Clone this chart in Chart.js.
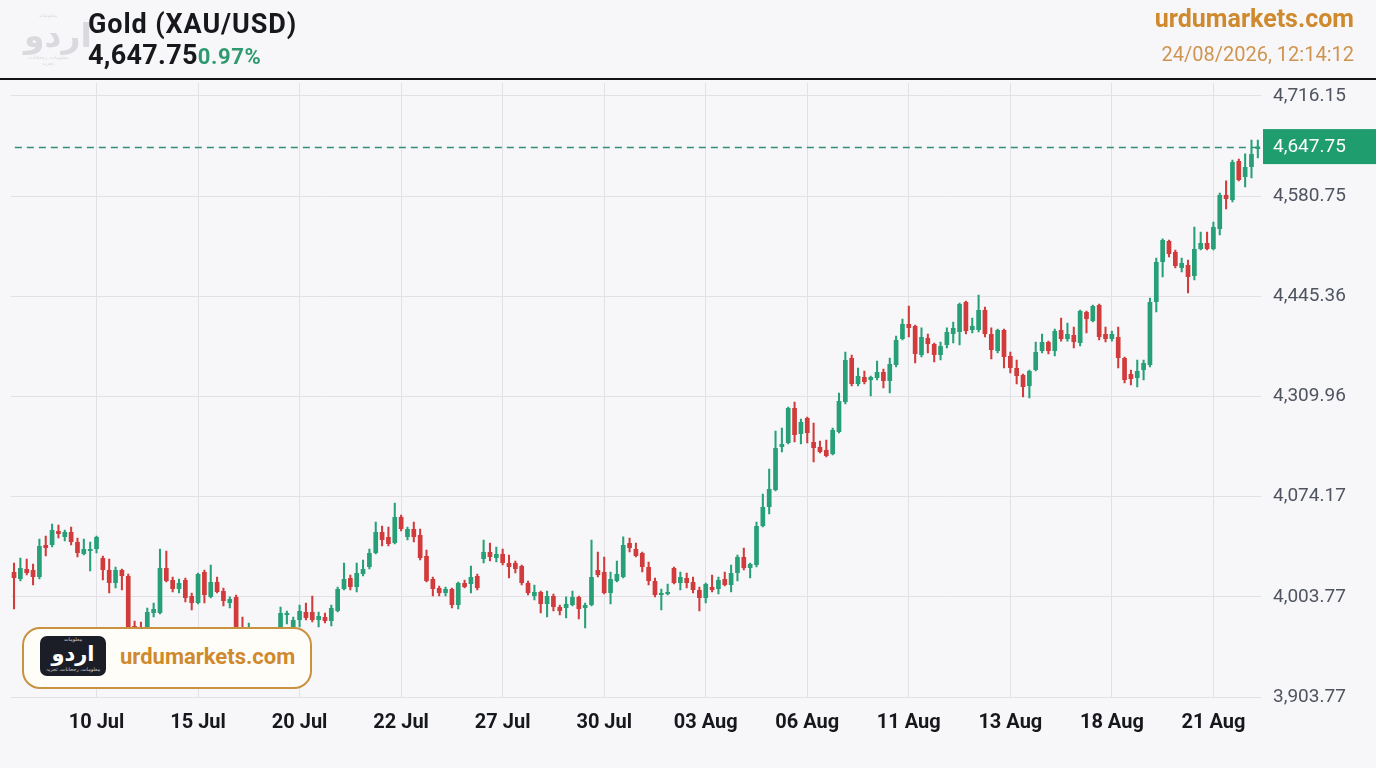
<!DOCTYPE html>
<html lang="en">
<head>
<meta charset="UTF-8">
<title>Gold (XAU/USD)</title>
<script src="https://cdn.jsdelivr.net/npm/chart.js"></script>
<style>
  body { margin: 0; width: 1376px; height: 768px; background: #f7f7f9; font-family: Roboto, sans-serif; position: relative; overflow: hidden; }
  #chart { position: absolute; left: 0; top: 0; }
  .rule { position: absolute; left: 0; top: 78px; width: 1376px; height: 2px; background: #151515; }
  .wm { position: absolute; left: 24px; top: 12px; width: 48px; text-align: center; color: #d9d9de; font-family: "DejaVu Sans", sans-serif; }
  .wm .big { font-size: 33px; font-weight: bold; line-height: 36px; }
  .wm .small { font-size: 5px; line-height: 6px; }
  .title { position: absolute; left: 88px; top: 11px; font-size: 27px; line-height: 27px; font-weight: 700; color: #17181c; letter-spacing: 0.9px; }
  .price { position: absolute; left: 88px; top: 41px; line-height: 28px; white-space: nowrap; }
  .price .v { font-size: 27px; font-weight: 700; color: #17181c; letter-spacing: 0.3px; }
  .price .p { font-size: 22px; font-weight: 700; color: #2f9a70; letter-spacing: 0.6px; }
  .site { position: absolute; right: 22px; top: 6px; font-size: 25px; line-height: 25px; font-weight: 700; color: #cf8a2e; }
  .stamp { position: absolute; right: 22px; top: 44px; font-size: 20px; line-height: 21px; color: #cf9550; }
  .badge { position: absolute; left: 22px; top: 627px; width: 290px; height: 62px; box-sizing: border-box; border: 2.5px solid #c99240; border-radius: 18px; background: #fffdf8; }
  .badge .logo { position: absolute; left: 16px; top: 7px; width: 66px; height: 40px; border-radius: 7px; background: #1b1e27; color: #fff; text-align: center; font-family: "DejaVu Sans", sans-serif; }
  .badge .logo .t { font-size: 5px; line-height: 7px; color: #cfd0d6; }
  .badge .logo .b { font-size: 21px; font-weight: bold; line-height: 24px; margin-top: -1px; }
  .badge .name { position: absolute; left: 96px; top: 17px; font-size: 22px; line-height: 22px; font-weight: 700; color: #cf8a2e; }
</style>
</head>
<body>
<canvas id="chart" width="1376" height="768"></canvas>

<div class="wm"><div class="small">معلومات</div><div class="big">اردو</div><div class="small">معلومات، رجحانات، تجزیہ</div></div>
<div class="title">Gold (XAU/USD)</div>
<div class="price"><span class="v">4,647.75</span><span class="p">0.97%</span></div>
<div class="site">urdumarkets.com</div>
<div class="stamp">24/08/2026, 12:14:12</div>
<div class="rule"></div>

<div class="badge">
  <div class="logo"><div class="t">معلومات</div><div class="b">اردو</div><div class="t">معلومات، رجحانات، تجزیہ</div></div>
  <div class="name">urdumarkets.com</div>
</div>

<script>
// candle data, one entry per session
const opens = [
  4072.7, 4063.3, 4076.8, 4075.4, 4066.0, 4109.2, 4109.2, 4128.2, 4120.1, 4126.8,
  4113.3, 4097.1, 4101.1, 4103.8, 4091.7, 4075.4, 4057.9, 4075.4, 4067.3, 3999.7,
  3997.0, 3991.6, 4017.3, 4017.3, 4078.2, 4061.9, 4049.8, 4061.9, 4040.3, 4030.8,
  4072.7, 4039.0, 4059.2, 4047.1, 4030.8, 4039.0, 3997.0, 3983.5, 3991.6, 3980.8,
  3986.2, 3978.1, 3991.6, 4014.6, 3994.3, 4007.9, 4018.7, 4018.7, 4007.9, 4011.9,
  4006.5, 4020.0, 4049.8, 4064.6, 4052.5, 4070.0, 4079.5, 4098.4, 4126.8, 4120.1,
  4111.9, 4147.1, 4120.1, 4130.9, 4122.8, 4094.4, 4063.3, 4051.1, 4044.4, 4049.8,
  4028.1, 4057.9, 4056.5, 4067.3, 4090.3, 4099.8, 4091.7, 4097.1, 4084.9, 4084.9,
  4080.9, 4057.9, 4040.3, 4045.7, 4029.5, 4040.3, 4025.4, 4024.1, 4028.1, 4039.0,
  4024.1, 4028.1, 4075.4, 4072.7, 4044.4, 4060.6, 4066.0, 4111.9, 4103.8, 4098.4,
  4079.5, 4060.6, 4041.7, 4043.0, 4078.2, 4057.9, 4064.6, 4059.2, 4048.4, 4037.6,
  4052.5, 4049.8, 4063.3, 4055.2, 4071.4, 4093.0, 4078.2, 4082.2, 4134.9, 4160.6,
  4183.6, 4241.7, 4247.1, 4294.4, 4259.3, 4280.9, 4248.5, 4241.7, 4237.6, 4232.2,
  4262.0, 4302.5, 4362.0, 4326.9, 4336.3, 4332.3, 4335.0, 4343.1, 4330.9, 4352.6,
  4387.7, 4408.0, 4405.3, 4366.1, 4389.0, 4380.9, 4366.1, 4379.6, 4394.4, 4397.2,
  4437.7, 4399.9, 4399.9, 4426.9, 4394.4, 4371.5, 4399.9, 4364.7, 4348.5, 4339.0,
  4324.2, 4345.8, 4371.5, 4383.6, 4371.5, 4399.9, 4387.7, 4393.1, 4382.3, 4424.2,
  4412.0, 4433.6, 4394.4, 4387.7, 4390.4, 4362.0, 4340.4, 4335.0, 4345.8, 4352.6,
  4437.7, 4491.8, 4520.2, 4505.3, 4483.7, 4487.8, 4472.9, 4509.3, 4517.4, 4509.3,
  4536.4, 4582.3, 4575.6, 4628.3, 4606.7, 4620.2, 4644.5
];
const highs = [
  4084.9, 4091.7, 4090.3, 4083.6, 4117.3, 4121.4, 4137.6, 4136.3, 4129.5, 4133.6,
  4118.7, 4117.3, 4113.3, 4121.4, 4094.4, 4090.3, 4079.5, 4076.8, 4070.0, 4006.5,
  4005.2, 4024.1, 4030.8, 4103.8, 4101.1, 4066.0, 4063.3, 4064.6, 4044.4, 4071.4,
  4075.4, 4082.2, 4066.0, 4051.1, 4039.0, 4041.7, 4011.9, 4003.8, 3997.0, 3994.3,
  3991.6, 3997.0, 4025.4, 4020.0, 4011.9, 4028.1, 4030.8, 4040.3, 4018.7, 4017.3,
  4028.1, 4052.5, 4084.9, 4068.7, 4084.9, 4089.0, 4103.8, 4140.3, 4134.9, 4133.6,
  4166.0, 4149.8, 4133.6, 4140.3, 4130.9, 4102.5, 4066.0, 4053.8, 4052.5, 4051.1,
  4059.2, 4061.9, 4080.9, 4070.0, 4116.0, 4111.9, 4106.5, 4103.8, 4095.7, 4087.6,
  4082.2, 4060.6, 4055.2, 4047.1, 4047.1, 4043.0, 4028.1, 4039.0, 4047.1, 4040.3,
  4030.8, 4116.0, 4099.8, 4093.0, 4072.7, 4087.6, 4120.1, 4118.7, 4111.9, 4099.8,
  4086.3, 4064.6, 4049.8, 4056.5, 4079.5, 4072.7, 4071.4, 4066.0, 4052.5, 4057.9,
  4068.7, 4066.0, 4072.7, 4082.2, 4095.7, 4105.2, 4084.9, 4140.3, 4178.2, 4212.0,
  4263.3, 4267.4, 4295.8, 4302.5, 4279.5, 4282.2, 4274.1, 4249.8, 4251.2, 4267.4,
  4314.7, 4370.1, 4366.1, 4348.5, 4344.4, 4337.7, 4357.9, 4347.1, 4362.0, 4391.7,
  4414.7, 4432.3, 4406.6, 4402.6, 4394.4, 4382.3, 4383.6, 4402.6, 4410.7, 4436.3,
  4439.0, 4416.1, 4447.2, 4430.9, 4402.6, 4401.2, 4401.2, 4370.1, 4359.3, 4340.4,
  4345.8, 4383.6, 4394.4, 4384.9, 4401.2, 4416.1, 4409.3, 4403.9, 4426.9, 4425.5,
  4433.6, 4434.9, 4403.9, 4398.5, 4403.9, 4363.4, 4345.8, 4359.3, 4359.3, 4443.1,
  4497.2, 4522.9, 4521.5, 4508.0, 4497.2, 4494.5, 4539.1, 4532.3, 4532.3, 4545.8,
  4585.0, 4601.3, 4629.6, 4631.0, 4637.8, 4656.7, 4656.7
];
const lows = [
  4022.7, 4060.6, 4068.7, 4055.2, 4063.3, 4094.4, 4106.5, 4118.7, 4114.6, 4109.2,
  4093.0, 4095.7, 4074.1, 4098.4, 4061.9, 4044.4, 4051.1, 4048.4, 3986.2, 3983.5,
  3984.9, 3988.9, 4011.9, 4016.0, 4059.2, 4045.7, 4044.4, 4032.2, 4021.4, 4029.5,
  4030.8, 4037.6, 4044.4, 4026.8, 4024.1, 3988.9, 3980.8, 3978.1, 3974.1, 3970.0,
  3967.3, 3972.7, 3986.2, 4002.4, 3988.9, 3998.4, 4007.9, 4005.2, 3998.4, 4003.8,
  3999.7, 4018.7, 4048.4, 4048.4, 4045.7, 4067.3, 4076.8, 4097.0, 4107.9, 4107.9,
  4110.6, 4128.2, 4116.0, 4113.3, 4089.0, 4059.2, 4040.3, 4040.3, 4040.3, 4024.1,
  4022.7, 4051.1, 4044.4, 4048.4, 4084.9, 4087.6, 4086.3, 4082.2, 4064.6, 4071.4,
  4055.2, 4041.7, 4034.9, 4017.3, 4011.9, 4020.0, 4014.6, 4010.6, 4026.8, 4009.2,
  3997.0, 4026.8, 4066.0, 4043.0, 4029.5, 4059.2, 4064.6, 4099.8, 4093.0, 4072.7,
  4055.2, 4039.0, 4021.4, 4041.7, 4056.5, 4048.4, 4051.1, 4044.4, 4020.0, 4030.8,
  4045.7, 4043.0, 4053.8, 4045.7, 4060.6, 4075.4, 4064.6, 4079.5, 4133.6, 4151.1,
  4182.2, 4235.0, 4245.8, 4248.5, 4245.8, 4247.1, 4221.4, 4233.7, 4228.2, 4230.9,
  4260.6, 4299.8, 4324.2, 4324.2, 4326.9, 4310.6, 4332.3, 4321.5, 4314.7, 4349.8,
  4386.3, 4390.4, 4355.3, 4363.4, 4368.8, 4356.6, 4359.3, 4375.5, 4382.3, 4379.6,
  4394.4, 4395.8, 4397.2, 4390.4, 4360.7, 4368.8, 4348.5, 4341.7, 4326.9, 4309.3,
  4307.9, 4344.4, 4368.8, 4367.4, 4364.7, 4384.9, 4384.9, 4375.5, 4378.2, 4395.8,
  4410.7, 4386.3, 4383.6, 4384.9, 4348.5, 4328.2, 4325.5, 4322.8, 4332.3, 4349.8,
  4424.2, 4471.5, 4498.6, 4483.7, 4478.3, 4449.9, 4467.4, 4508.0, 4508.0, 4508.0,
  4528.3, 4563.4, 4572.9, 4601.3, 4593.1, 4605.3, 4632.3
];
const closes = [
  4064.6, 4078.2, 4071.4, 4066.0, 4107.9, 4105.2, 4129.5, 4124.1, 4126.8, 4113.3,
  4098.4, 4103.8, 4103.8, 4120.1, 4075.4, 4057.9, 4075.4, 4067.3, 3991.6, 3991.6,
  3990.3, 4018.7, 4022.7, 4078.2, 4060.6, 4049.8, 4057.9, 4037.6, 4030.8, 4070.0,
  4041.7, 4059.2, 4045.7, 4033.5, 4036.2, 3994.3, 3988.9, 3994.3, 3980.8, 3986.2,
  3978.1, 3991.6, 4017.3, 4017.3, 4007.9, 4020.0, 4010.6, 4007.9, 4013.3, 4006.5,
  4024.1, 4049.8, 4063.3, 4052.5, 4071.4, 4076.8, 4098.4, 4126.8, 4116.0, 4110.6,
  4147.1, 4130.9, 4130.9, 4120.1, 4091.7, 4060.6, 4049.8, 4044.4, 4049.8, 4028.1,
  4057.9, 4052.5, 4066.0, 4051.1, 4099.8, 4093.0, 4097.1, 4084.9, 4079.5, 4076.8,
  4057.9, 4044.4, 4045.7, 4029.5, 4040.3, 4025.4, 4020.0, 4029.5, 4039.0, 4022.7,
  4028.1, 4066.0, 4068.7, 4044.4, 4063.3, 4070.0, 4109.2, 4105.2, 4094.4, 4079.5,
  4060.6, 4041.7, 4044.4, 4045.7, 4057.9, 4066.0, 4057.9, 4048.4, 4037.6, 4056.5,
  4048.4, 4061.9, 4055.2, 4071.4, 4093.0, 4078.2, 4083.6, 4134.9, 4160.6, 4185.0,
  4240.4, 4245.8, 4294.4, 4257.9, 4275.5, 4260.6, 4240.4, 4235.0, 4229.5, 4264.7,
  4303.9, 4359.3, 4326.9, 4337.7, 4329.6, 4336.3, 4343.1, 4330.9, 4354.0, 4386.3,
  4408.0, 4402.6, 4367.4, 4390.4, 4380.9, 4366.1, 4378.2, 4397.2, 4402.6, 4435.0,
  4398.5, 4405.3, 4426.9, 4394.4, 4372.8, 4399.9, 4363.4, 4348.5, 4337.7, 4322.8,
  4344.4, 4370.1, 4383.6, 4371.5, 4398.5, 4387.7, 4394.4, 4383.6, 4425.5, 4414.7,
  4432.3, 4390.4, 4387.7, 4394.4, 4362.0, 4332.3, 4333.6, 4344.4, 4355.3, 4437.7,
  4491.8, 4521.5, 4502.6, 4486.4, 4490.4, 4471.5, 4509.3, 4517.4, 4509.3, 4539.1,
  4582.3, 4576.9, 4626.9, 4602.6, 4620.2, 4637.8, 4647.75
];

// axis labels
const xTickLabels = ['10 Jul', '15 Jul', '20 Jul', '22 Jul', '27 Jul', '30 Jul', '03 Aug', '06 Aug', '11 Aug', '13 Aug', '18 Aug', '21 Aug'];
const xTickIndex = [13, 29, 45, 61, 77, 93, 109, 125, 141, 157, 173, 189];
const yTickLabels = ['3,903.77', '4,003.77', '4,074.17', '4,309.96', '4,445.36', '4,580.75', '4,716.15'];
const yGridBottom = 3903.77;
const yGridTop = 4716.15;
const yAxisMax = 4733.7;
const lastPrice = 4647.75;
const lastLabel = '4,647.75';

const UP = '#27a077';
const DOWN = '#d13b3b';
const GRID = '#e2e2e6';

const candleColors = opens.map((o, i) => closes[i] >= o ? UP : DOWN);

const lastPricePlugin = {
  id: 'lastPrice',
  beforeDatasetsDraw(chart) {
    const { ctx, chartArea, scales } = chart;
    const y = Math.round(scales.y.getPixelForValue(lastPrice)) + 0.5;
    ctx.save();
    ctx.strokeStyle = '#2f8f77';
    ctx.lineWidth = 1.4;
    ctx.setLineDash([7, 5]);
    ctx.beginPath();
    ctx.moveTo(chartArea.left + 4, y);
    ctx.lineTo(chartArea.right, y);
    ctx.stroke();
    ctx.restore();
  },
  afterDraw(chart) {
    const { ctx, chartArea, scales } = chart;
    const y = scales.y.getPixelForValue(lastPrice);
    ctx.save();
    ctx.fillStyle = '#1f9d6f';
    ctx.fillRect(chartArea.right + 2, y - 17.5, chart.width - chartArea.right - 2, 35);
    ctx.fillStyle = '#ffffff';
    ctx.font = '19px Roboto';
    ctx.textBaseline = 'middle';
    ctx.fillText(lastLabel, chartArea.right + 12, y + 1);
    ctx.restore();
  }
};

new Chart(document.getElementById('chart'), {
  type: 'bar',
  data: {
    labels: opens.map((_, i) => String(i)),
    datasets: [
      {
        label: 'wick',
        data: lows.map((l, i) => [l, highs[i]]),
        backgroundColor: candleColors,
        barThickness: 1.4,
        grouped: false,
        order: 2
      },
      {
        label: 'body',
        data: opens.map((o, i) => [o, closes[i]]),
        backgroundColor: candleColors,
        barPercentage: 0.74,
        categoryPercentage: 1,
        minBarLength: 1.5,
        grouped: false,
        order: 1
      }
    ]
  },
  options: {
    responsive: false,
    animation: false,
    layout: { padding: { top: 83, left: 8, right: 0, bottom: 0 } },
    plugins: { legend: { display: false }, tooltip: { enabled: false } },
    scales: {
      x: {
        type: 'category',
        border: { display: false },
        grid: {
          offset: false,
          drawTicks: false,
          color: (c) => (c.tick && c.tick.label) ? GRID : 'rgba(0,0,0,0)'
        },
        ticks: {
          autoSkip: false,
          maxRotation: 0,
          padding: 14,
          color: '#17181c',
          font: { family: 'Roboto', size: 20, weight: 'bold' },
          callback: (v, i) => {
            const k = xTickIndex.indexOf(i);
            return k >= 0 ? xTickLabels[k] : '';
          }
        },
        afterFit: (s) => { s.height = 71; }
      },
      y: {
        position: 'right',
        min: yGridBottom,
        max: yAxisMax,
        border: { display: false },
        grid: { color: GRID, drawTicks: false },
        afterBuildTicks: (s) => {
          s.ticks = yTickLabels.map((_, k) => ({ value: yGridBottom + k * (yGridTop - yGridBottom) / (yTickLabels.length - 1) }));
        },
        ticks: {
          padding: 12,
          color: '#4f5460',
          font: { family: 'Roboto', size: 19 },
          callback: (v, i) => yTickLabels[i]
        },
        afterFit: (s) => { s.width = 115; }
      }
    }
  },
  plugins: [lastPricePlugin]
});
</script>
</body>
</html>
